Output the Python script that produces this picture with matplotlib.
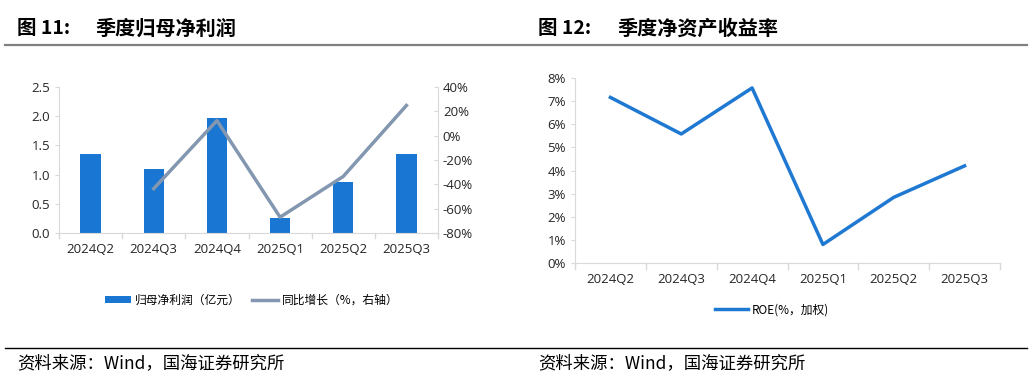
import matplotlib.pyplot as plt
from matplotlib.lines import Line2D
from matplotlib.ticker import FuncFormatter

plt.rcParams['font.family'] = ['Noto Sans CJK SC', 'DejaVu Sans']

# --- Data ---
quarters = ['2024Q2', '2024Q3', '2024Q4', '2025Q1', '2025Q2', '2025Q3']
net_profit = [1.36, 1.09, 1.97, 0.25, 0.88, 1.36]          # 亿元
yoy = [None, -43.5, 12.4, -67.0, -33.5, 24.8]               # %
roe = [7.16, 5.58, 7.57, 0.80, 2.84, 4.20]                  # %

bar_color = '#1976D2'
yoy_color = '#8497B0'
roe_color = '#1F78D1'
axis_gray = '#D9D9D9'
tick_font = dict(family=['Open Sans', 'DejaVu Sans'], size=9.5)

fig = plt.figure(figsize=(10.32, 3.79), dpi=100)

# --- Header / footer rules and text ---
fig.add_artist(Line2D([0.005, 0.995], [1 - 45 / 379] * 2, color='#808080', lw=1.6))
fig.add_artist(Line2D([0.005, 0.995], [1 - 348 / 379] * 2, color='black', lw=1.0))
fig.text(17 / 1032, 1 - 28 / 379, '图 11:', fontsize=14, fontweight='bold', va='center')
fig.text(95 / 1032, 1 - 28 / 379, '季度归母净利润', fontsize=14.5, fontweight='bold', va='center')
fig.text(538 / 1032, 1 - 28 / 379, '图 12:', fontsize=14, fontweight='bold', va='center')
fig.text(617 / 1032, 1 - 28 / 379, '季度净资产收益率', fontsize=14.5, fontweight='bold', va='center')
fig.text(17 / 1032, 1 - 363 / 379, '资料来源：Wind，国海证券研究所', fontsize=12.5, va='center')
fig.text(538 / 1032, 1 - 363 / 379, '资料来源：Wind，国海证券研究所', fontsize=12.5, va='center')


def style_axis(ax):
    for s in ['top', 'right']:
        ax.spines[s].set_visible(False)
    for s in ['left', 'bottom']:
        ax.spines[s].set_color(axis_gray)
    ax.tick_params(axis='y', colors=axis_gray, length=3, labelcolor='#262626')
    ax.tick_params(axis='x', length=0, labelcolor='#262626', pad=7)
    for lab in ax.get_xticklabels() + ax.get_yticklabels():
        lab.set_fontproperties(tick_font)
        lab.set_fontsize(tick_font['size'])
    # category separators on the x axis
    for i in range(len(quarters) + 1):
        ax.plot([i - 0.5, i - 0.5], [0, -0.035], transform=ax.get_xaxis_transform(),
                color=axis_gray, lw=1, clip_on=False)


# --- Left chart: net profit + YoY ---
ax1 = fig.add_axes([59 / 1032, 1 - 233 / 379, 379 / 1032, 146 / 379])
x = list(range(len(quarters)))
ax1.bar(x, net_profit, width=0.32, color=bar_color, label='归母净利润（亿元）', zorder=2)
ax1.set_xlim(-0.5, len(quarters) - 0.5)
ax1.set_ylim(0, 2.5)
ax1.set_yticks([0, 0.5, 1.0, 1.5, 2.0, 2.5])
ax1.yaxis.set_major_formatter(FuncFormatter(lambda v, p: f'{v:.1f}'))
ax1.set_xticks(x)
ax1.set_xticklabels(quarters)
style_axis(ax1)

ax2 = ax1.twinx()
yx = [i for i, v in zip(x, yoy) if v is not None]
yv = [v for v in yoy if v is not None]
ax2.plot(yx, yv, color=yoy_color, lw=2.5, label='同比增长（%，右轴）', zorder=3)
ax2.set_ylim(-80, 40)
ax2.set_yticks(range(-80, 41, 20))
ax2.yaxis.set_major_formatter(FuncFormatter(lambda v, p: f'{v:.0f}%'))
for s in ['top', 'left', 'bottom']:
    ax2.spines[s].set_visible(False)
ax2.spines['right'].set_color(axis_gray)
ax2.tick_params(axis='y', colors=axis_gray, length=3, direction='in', labelcolor='#262626')
for lab in ax2.get_yticklabels():
    lab.set_fontproperties(tick_font)
    lab.set_fontsize(tick_font['size'])

h1, l1 = ax1.get_legend_handles_labels()
h2, l2 = ax2.get_legend_handles_labels()
fig.legend(h1 + h2, l1 + l2, loc='center', bbox_to_anchor=(252 / 1032, 1 - 300 / 379),
           ncol=2, frameon=False, fontsize=8.5, handlelength=2.2, handleheight=0.6,
           columnspacing=1.0, handletextpad=0.3)

# --- Right chart: ROE ---
ax3 = fig.add_axes([575 / 1032, 1 - 263 / 379, 425 / 1032, 185 / 379])
ax3.plot(x, roe, color=roe_color, lw=2.5, label='ROE(%，加权)')
ax3.set_xlim(-0.5, len(quarters) - 0.5)
ax3.set_ylim(0, 8)
ax3.set_yticks(range(0, 9))
ax3.yaxis.set_major_formatter(FuncFormatter(lambda v, p: f'{v:.0f}%'))
ax3.set_xticks(x)
ax3.set_xticklabels(quarters)
style_axis(ax3)
ax3.legend(loc='center', bbox_to_anchor=(772 / 1032, 1 - 310 / 379),
           bbox_transform=fig.transFigure, frameon=False, fontsize=8.5,
           handlelength=2.8, handletextpad=0.3)

fig.savefig('out.png', dpi=100)
